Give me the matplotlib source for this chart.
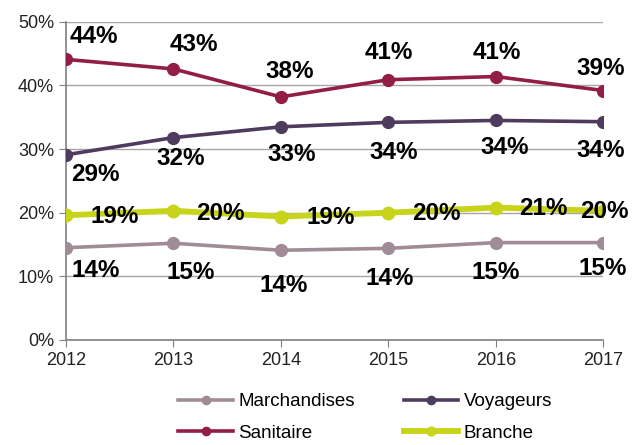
import matplotlib.pyplot as plt
from matplotlib.ticker import FuncFormatter

# données
annees = [2012, 2013, 2014, 2015, 2016, 2017]
marchandises = [14.5, 15.2, 14.1, 14.4, 15.3, 15.3]
voyageurs = [29.1, 31.8, 33.5, 34.2, 34.5, 34.3]
sanitaire = [44.1, 42.6, 38.2, 40.9, 41.4, 39.2]
branche = [19.6, 20.3, 19.4, 20.0, 20.8, 20.3]

lab_marchandises = ["14%", "15%", "14%", "14%", "15%", "15%"]
lab_voyageurs = ["29%", "32%", "33%", "34%", "34%", "34%"]
lab_sanitaire = ["44%", "43%", "38%", "41%", "41%", "39%"]
lab_branche = ["19%", "20%", "19%", "20%", "21%", "20%"]

plt.rcParams['font.family'] = ['Liberation Sans', 'DejaVu Sans']

fig = plt.figure(figsize=(6.33, 4.45), dpi=100)
ax = fig.add_axes([0.104, 0.236, 0.849, 0.715])

c_m = '#A08C96'
c_v = '#4F3B5E'
c_s = '#931E43'
c_b = '#C8D419'

lm, = ax.plot(annees, marchandises, color=c_m, lw=2.6, marker='o', ms=8.5, zorder=3)
lv, = ax.plot(annees, voyageurs, color=c_v, lw=2.6, marker='o', ms=8.5, zorder=3)
ls, = ax.plot(annees, sanitaire, color=c_s, lw=2.6, marker='o', ms=8.5, zorder=3)
lb, = ax.plot(annees, branche, color=c_b, lw=4.2, marker='o', ms=9, zorder=3)

# étiquettes (décalage en pixels)
off_s = [(28, 23), (21, 24), (9, 25), (1, 27), (1, 24), (-3, 22)]
off_v = [(30, -20), (7, -21), (11, -28), (5, -30), (9, -27), (-3, -29)]
off_b = [(49, -1), (47, -3), (50, -1), (48, -1), (48, -1), (1, -1)]
off_m = [(30, -23), (17, -29), (3, -35), (1, -30), (0, -30), (-1, -26)]

def etiquettes(vals, labs, offs):
    for x, y, t, o in zip(annees, vals, labs, offs):
        ax.annotate(t, (x, y), xytext=o, textcoords='offset pixels',
                    ha='center', va='center', fontsize=17.5, fontweight='bold',
                    color='black', zorder=5)

etiquettes(sanitaire, lab_sanitaire, off_s)
etiquettes(voyageurs, lab_voyageurs, off_v)
etiquettes(branche, lab_branche, off_b)
etiquettes(marchandises, lab_marchandises, off_m)

ax.set_xlim(2012, 2017)
ax.set_ylim(0, 50)
ax.set_yticks(range(0, 51, 10))
ax.set_xticks(annees)
ax.yaxis.set_major_formatter(FuncFormatter(lambda v, p: f"{v:.0f}%"))
ax.grid(axis='y', color='#A6A6A6', lw=1)
ax.set_axisbelow(True)
for s in ['top', 'right']:
    ax.spines[s].set_visible(False)
for s in ['left', 'bottom']:
    ax.spines[s].set_color('#808080')
    ax.spines[s].set_linewidth(1.2)
ax.tick_params(colors='#808080', labelcolor='#222222', labelsize=13, length=5)
ax.tick_params(axis='x', pad=4)

fig.legend([lm, ls, lv, lb], ['Marchandises', 'Sanitaire', 'Voyageurs', 'Branche'],
           ncol=2, loc='center', bbox_to_anchor=(0.577, 0.062), frameon=False,
           fontsize=13.5, handlelength=2.9, columnspacing=2.6, labelspacing=0.75,
           handletextpad=0.3, markerscale=0.7, borderpad=0.2)

fig.savefig('out.png', dpi=100)
